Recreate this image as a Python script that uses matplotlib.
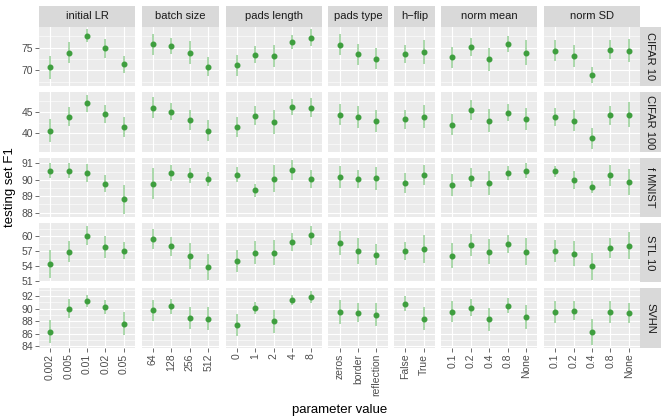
import matplotlib
matplotlib.use("Agg")
import matplotlib.pyplot as plt
from matplotlib.ticker import MultipleLocator
import numpy as np

plt.rcParams['font.family'] = ['Liberation Sans', 'DejaVu Sans']

# hyper-parameter groups (facet columns) and their levels
groups = ["initial LR", "batch size", "pads length", "pads type", "h\u2212flip", "norm mean", "norm SD"]
levels = [
    ["0.002", "0.005", "0.01", "0.02", "0.05"],
    ["64", "128", "256", "512"],
    ["0", "1", "2", "4", "8"],
    ["zeros", "border", "reflection"],
    ["False", "True"],
    ["0.1", "0.2", "0.4", "0.8", "None"],
    ["0.1", "0.2", "0.4", "0.8", "None"],
]
datasets = ["CIFAR 10", "CIFAR 100", "f MNIST", "STL 10", "SVHN"]

# mean F1 and error half-width, one value per level (all groups concatenated)
cifar10_mean = [70.68, 73.9, 77.6, 74.86, 71.3, 75.76, 75.4, 73.9, 70.75, 71.06, 73.4, 73.2, 76.3, 77.24,
                75.67, 73.5, 72.6, 73.6, 74.0, 72.85, 75.2, 72.4, 75.8, 73.9, 74.33, 73.2, 68.96, 74.49, 74.33]
cifar10_err = [2.5, 2.24, 1.42, 2.13, 1.86, 2.31, 1.79, 2.61, 2.09, 2.35, 1.87, 2.43, 1.6, 1.79,
               2.3, 2.3, 2.3, 2.05, 2.6, 2.3, 1.95, 2.57, 1.68, 2.7, 2.27, 2.4, 1.86, 2.1, 2.6]
cifar100_mean = [40.57, 43.9, 47.0, 44.45, 41.5, 45.95, 45.0, 43.1, 40.57, 41.43, 44.14, 42.62, 46.2, 45.95,
                 44.38, 43.74, 42.95, 43.26, 43.9, 42.0, 45.48, 42.95, 44.76, 43.4, 43.8, 42.95, 38.8, 44.2, 44.38]
cifar100_err = [2.7, 2.3, 2.0, 2.06, 2.3, 2.46, 2.0, 2.4, 2.46, 2.4, 2.26, 2.86, 1.9, 2.26,
                2.46, 2.58, 2.58, 2.18, 2.7, 2.46, 2.3, 2.66, 1.98, 2.6, 2.1, 2.46, 2.46, 2.26, 2.9]
fmnist_mean = [90.57, 90.57, 90.41, 89.76, 88.8, 89.76, 90.39, 90.27, 90.06, 90.31, 89.35, 90.06, 90.61, 90.04,
               90.18, 90.06, 90.1, 89.82, 90.27, 89.69, 90.14, 89.8, 90.41, 90.57, 90.51, 89.96, 89.55, 90.27, 89.86]
fmnist_err = [0.45, 0.43, 0.54, 0.52, 0.9, 0.94, 0.49, 0.44, 0.42, 0.47, 0.41, 0.82, 0.59, 0.56,
              0.67, 0.53, 0.71, 0.62, 0.61, 0.68, 0.56, 0.72, 0.44, 0.43, 0.34, 0.55, 0.38, 0.63, 0.78]
stl10_mean = [54.41, 56.93, 60.14, 57.89, 57.14, 59.52, 57.95, 56.05, 53.87, 55.09, 56.73, 56.73, 58.84, 60.2,
              58.64, 57.0, 56.32, 57.0, 57.48, 56.11, 58.23, 56.93, 58.43, 56.93, 57.0, 56.52, 54.0, 57.68, 58.09]
stl10_err = [2.93, 2.2, 1.94, 2.2, 1.64, 1.98, 1.98, 2.56, 2.62, 2.25, 2.28, 2.49, 1.84, 1.98,
             2.45, 2.62, 2.2, 1.87, 2.8, 2.56, 2.25, 2.49, 1.8, 2.73, 2.2, 2.45, 2.73, 2.08, 2.73]
svhn_mean = [86.35, 89.97, 91.2, 90.24, 87.57, 89.71, 90.35, 88.48, 88.37, 87.36, 90.08, 87.95, 91.31, 91.79,
             89.44, 89.33, 89.01, 90.77, 88.37, 89.49, 90.13, 88.27, 90.45, 88.64, 89.39, 89.65, 86.24, 89.44, 89.28]
svhn_err = [1.87, 1.55, 0.93, 1.17, 1.81, 1.71, 1.15, 1.79, 1.81, 1.73, 0.93, 1.76, 0.8, 0.99,
            1.92, 1.47, 1.79, 1.2, 1.81, 1.65, 1.36, 1.87, 1.15, 1.92, 1.73, 1.55, 2.03, 1.76, 1.55]

means = [cifar10_mean, cifar100_mean, fmnist_mean, stl10_mean, svhn_mean]
errs = [cifar10_err, cifar100_err, fmnist_err, stl10_err, svhn_err]
# y tick spacing (major, minor) per row
row_ticks = [(5, 2.5), (5, 2.5), (1, 0.5), (3, 1.5), (2, 1)]

POINT_COLOR = "#3E9E3E"
BAR_COLOR = "#A4D6A4"
PANEL_BG = "#EBEBEB"
STRIP_BG = "#D9D9D9"
TEXT_GREY = "#4D4D4D"

W, H = 667, 417
fig = plt.figure(figsize=(W / 100, H / 100), dpi=100)

# layout in pixels
left, right = 39.0, 640.0
top, bottom = 26.7, 347.7
gap_x, gap_y = 6.6, 6.0
strip = 20.7
units = [len(l) + 0.2 for l in levels]
u = (right - left - gap_x * (len(groups) - 1)) / sum(units)
row_h = (bottom - top - gap_y * (len(datasets) - 1)) / len(datasets)


def px_rect(x0, y0, w, h):
    return [x0 / W, 1 - (y0 + h) / H, w / W, h / H]


def make_strip(rect, label, rotation=0):
    sax = fig.add_axes(rect)
    sax.set_facecolor(STRIP_BG)
    sax.set_xticks([])
    sax.set_yticks([])
    for s in sax.spines.values():
        s.set_visible(False)
    sax.text(0.5, 0.5, label, ha='center', va='center', rotation=rotation, fontsize=8,
             color='#1A1A1A', transform=sax.transAxes)


starts = np.cumsum([0] + [len(l) for l in levels])
for r, ds in enumerate(datasets):
    m_all = np.array(means[r])
    e_all = np.array(errs[r])
    lo = (m_all - e_all).min()
    hi = (m_all + e_all).max()
    pad = 0.05 * (hi - lo)
    y0 = top + r * (row_h + gap_y)
    x0 = left
    for c, g in enumerate(groups):
        w = units[c] * u
        ax = fig.add_axes(px_rect(x0, y0, w, row_h))
        ax.set_facecolor(PANEL_BG)
        for s in ax.spines.values():
            s.set_visible(False)
        sl = slice(starts[c], starts[c + 1])
        xs = np.arange(len(levels[c]))
        ax.errorbar(xs, m_all[sl], yerr=e_all[sl], fmt='none', ecolor=BAR_COLOR,
                    elinewidth=1.3, capsize=0, zorder=3)
        ax.plot(xs, m_all[sl], 'o', color=POINT_COLOR, markersize=3.3, zorder=4)
        ax.set_xlim(-0.6, len(levels[c]) - 0.4)
        ax.set_ylim(lo - pad, hi + pad)
        ax.set_xticks(xs)
        ax.yaxis.set_major_locator(MultipleLocator(row_ticks[r][0]))
        ax.yaxis.set_minor_locator(MultipleLocator(row_ticks[r][1]))
        ax.grid(True, which='major', color='white', linewidth=0.8, zorder=0)
        ax.grid(True, which='minor', axis='y', color='white', linewidth=0.4, zorder=0)
        ax.set_axisbelow(True)
        ax.tick_params(which='minor', length=0)
        ax.tick_params(which='major', length=2.75, width=0.5, color='#333333',
                       labelsize=7.5, labelcolor=TEXT_GREY, pad=1.5)
        if c == 0:
            ax.tick_params(axis='y', left=True, labelleft=True)
        else:
            ax.tick_params(axis='y', left=False, labelleft=False)
        if r == len(datasets) - 1:
            ax.set_xticklabels(levels[c], rotation=90)
        else:
            ax.tick_params(axis='x', bottom=False, labelbottom=False)
        if r == 0:
            make_strip(px_rect(x0, y0 - strip, w, strip), g)
        x0 += w + gap_x
    make_strip(px_rect(right, y0, strip, row_h), ds, rotation=-90)

fig.text((left + right) / 2 / W, 1 - 410 / H, "parameter value", ha='center', va='center', fontsize=9.5)
fig.text(10 / W, 1 - (top + bottom) / 2 / H, "testing set F1", ha='center', va='center',
         rotation=90, fontsize=9.5)

fig.savefig("out.png", dpi=100)
